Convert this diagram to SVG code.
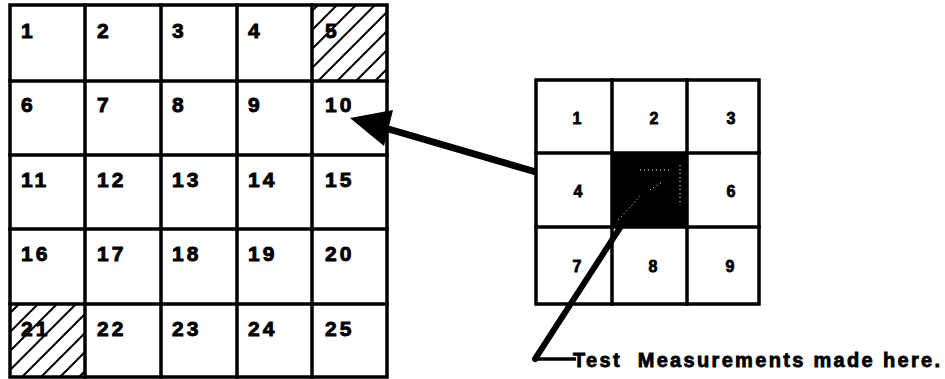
<svg xmlns="http://www.w3.org/2000/svg" width="945" height="379" viewBox="0 0 945 379">
<style>
.grid{fill:none;stroke:#000;stroke-width:3.5;stroke-linecap:square}
.num{font-family:"Liberation Sans",Arial,sans-serif;font-weight:bold;font-size:21px;fill:#000;stroke:#000;stroke-width:0.9;letter-spacing:3px}
.snum{font-family:"Liberation Sans",Arial,sans-serif;font-weight:bold;font-size:16px;fill:#000;stroke:#000;stroke-width:0.8;text-anchor:middle}
.label{font-family:"Liberation Sans",Arial,sans-serif;font-weight:bold;font-size:20px;fill:#000;stroke:#000;stroke-width:0.8}
</style>
<defs>
<pattern id="hatch" patternUnits="userSpaceOnUse" width="19" height="19">
<path d="M-2,2 L2,-2 M0,19 L19,0 M17,21 L21,17" stroke="#000" stroke-width="2"/>
</pattern>
</defs>
<rect width="945" height="379" fill="#fff"/>
<g id="left-grid">
<rect x="312" y="5" width="75" height="76" fill="url(#hatch)"/>
<rect x="10" y="304" width="75" height="73" fill="url(#hatch)"/>
<rect class="grid" x="10" y="5" width="377" height="372"/>
<path class="grid" d="M85,5V377M161,5V377M237,5V377M312,5V377M10,81H387M10,155H387M10,229H387M10,304H387"/>
<g id="cells-left">
<text class="num" x="21" y="38">1</text>
<text class="num" x="97" y="38">2</text>
<text class="num" x="172" y="38">3</text>
<text class="num" x="248" y="38">4</text>
<text class="num" x="325" y="38">5</text>
<text class="num" x="21" y="112">6</text>
<text class="num" x="97" y="112">7</text>
<text class="num" x="172" y="112">8</text>
<text class="num" x="248" y="112">9</text>
<text class="num" x="325" y="112">10</text>
<text class="num" x="21" y="187">11</text>
<text class="num" x="97" y="187">12</text>
<text class="num" x="172" y="187">13</text>
<text class="num" x="248" y="187">14</text>
<text class="num" x="325" y="187">15</text>
<text class="num" x="21" y="261">16</text>
<text class="num" x="97" y="261">17</text>
<text class="num" x="172" y="261">18</text>
<text class="num" x="248" y="261">19</text>
<text class="num" x="325" y="261">20</text>
<text class="num" x="21" y="336">21</text>
<text class="num" x="97" y="336">22</text>
<text class="num" x="172" y="336">23</text>
<text class="num" x="248" y="336">24</text>
<text class="num" x="325" y="336">25</text>
</g>
</g>
<g id="right-grid">
<rect x="612" y="153" width="75" height="74" fill="#000"/>
<path d="M618,220 L632,205 L640,196 M650,190 L662,182 M640,170 L670,170 M680,165 L680,205" stroke="#fff" stroke-width="1" stroke-dasharray="1 3" fill="none"/>
<rect class="grid" x="536" y="80" width="223" height="224"/>
<path class="grid" d="M612,80V304M687,80V304M536,153H759M536,227H759"/>
<text class="snum" x="577" y="124">1</text>
<text class="snum" x="654" y="124">2</text>
<text class="snum" x="731" y="124">3</text>
<text class="snum" x="578" y="197">4</text>
<text class="snum" x="731" y="197">6</text>
<text class="snum" x="577" y="272">7</text>
<text class="snum" x="653" y="272">8</text>
<text class="snum" x="730" y="272">9</text>
</g>
<g id="connectors">
<line x1="536" y1="172" x2="385" y2="128" stroke="#000" stroke-width="7"/>
<polygon points="350,118 393,110 384,146" fill="#000"/>
<polyline points="625,220 535,359" fill="none" stroke="#000" stroke-width="6" stroke-linecap="round"/>
<line x1="535" y1="359" x2="576" y2="359" stroke="#000" stroke-width="3.5"/>
</g>
<g id="label">
<text class="label" x="573" y="367" textLength="367" lengthAdjust="spacing" xml:space="preserve">Test  Measurements made here.</text>
</g>
</svg>
